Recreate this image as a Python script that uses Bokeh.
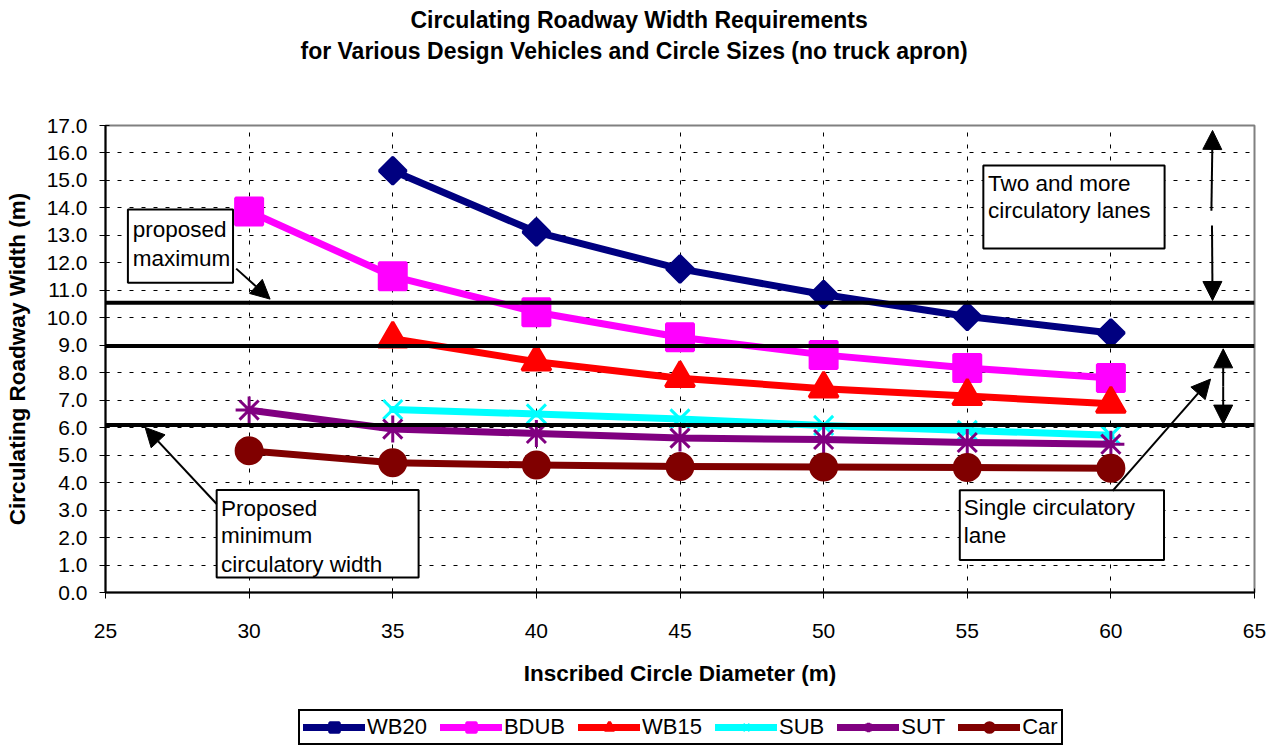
import numpy as np
from bokeh.plotting import figure
from bokeh.layouts import column
from bokeh.models import (Span, BoxAnnotation, Label, Arrow, NormalHead, Legend, LegendItem,
                          SingleIntervalTicker, NumeralTickFormatter, Range1d, Title)
from bokeh.embed import file_html
from bokeh.resources import INLINE

# ---------------- data ----------------
x_wb20 = [35, 40, 45, 50, 55, 60]
y_wb20 = [15.35, 13.12, 11.78, 10.85, 10.05, 9.45]
x_bdub = [30, 35, 40, 45, 50, 55, 60]
y_bdub = [13.87, 11.51, 10.20, 9.29, 8.65, 8.17, 7.81]
x_wb15 = [35, 40, 45, 50, 55, 60]
y_wb15 = [9.24, 8.40, 7.80, 7.42, 7.15, 6.87]
x_sub = [35, 40, 45, 50, 55, 60]
y_sub = [6.66, 6.50, 6.32, 6.08, 5.90, 5.72]
x_sut = [30, 35, 40, 45, 50, 55, 60]
y_sut = [6.64, 5.95, 5.79, 5.62, 5.57, 5.46, 5.40]
x_car = [30, 35, 40, 45, 50, 55, 60]
y_car = [5.16, 4.72, 4.64, 4.59, 4.57, 4.55, 4.52]

names = ["WB20", "BDUB", "WB15", "SUB", "SUT", "Car"]
xs = [x_wb20, x_bdub, x_wb15, x_sub, x_sut, x_car]
ys = [y_wb20, y_bdub, y_wb15, y_sub, y_sut, y_car]

proposed_max = 10.55
lane_split = 8.97
proposed_min = 6.1

title_lines = ["Circulating Roadway Width Requirements",
               "for Various Design Vehicles and Circle Sizes (no truck apron)"]

# ---------------- styles ----------------
styles = [
    dict(color="#000080", marker="square", size=19, angle=np.pi / 4, fill=True),
    dict(color="#FF00FF", marker="square", size=27, angle=0, fill=True),
    dict(color="#FF0000", marker="triangle", size=29, angle=0, fill=True),
    dict(color="#00FFFF", marker="x", size=27, angle=0, fill=False),
    dict(color="#800080", marker="asterisk", size=27, angle=0, fill=False),
    dict(color="#800000", marker="circle", size=26, angle=0, fill=True),
]

FONT = "Liberation Sans"

p = figure(width=1278, height=708, output_backend="svg", toolbar_location=None,
           x_range=Range1d(25, 65), y_range=Range1d(0, 17),
           min_border_left=105, min_border_right=24, min_border_top=125, min_border_bottom=116,
           background_fill_color="white", border_fill_color="white")

p.outline_line_color = "#808080"
p.outline_line_width = 2

# axes
p.xaxis.ticker = SingleIntervalTicker(interval=5)
p.yaxis.ticker = SingleIntervalTicker(interval=1)
p.yaxis.formatter = NumeralTickFormatter(format="0.0")
for ax in (p.xaxis[0], p.yaxis[0]):
    ax.axis_line_color = "black"
    ax.axis_line_width = 2
    ax.major_tick_line_color = "black"
    ax.major_tick_line_width = 1
    ax.major_tick_out = 6
    ax.major_tick_in = 4
    ax.minor_tick_line_color = None
    ax.major_label_text_font = FONT
    ax.major_label_text_font_size = "21px"
    ax.major_label_text_color = "black"
    ax.axis_label_text_font = FONT
    ax.axis_label_text_font_size = "22.5px"
    ax.axis_label_text_font_style = "bold"
    ax.axis_label_text_color = "black"
p.xaxis.axis_label = "Inscribed Circle Diameter (m)"
p.yaxis.axis_label = "Circulating Roadway Width (m)"
p.xaxis.major_label_standoff = 25
p.xaxis.axis_label_standoff = 20
p.yaxis.major_label_standoff = 12
p.yaxis.axis_label_standoff = 14

for g in (p.xgrid[0], p.ygrid[0]):
    g.grid_line_color = "black"
    g.grid_line_dash = "4 8"
    g.grid_line_width = 1

# legend strip (separate small figure placed under the chart)
lg = figure(width=1278, height=38, output_backend="svg", toolbar_location=None,
            x_range=Range1d(0, 1), y_range=Range1d(100, 101),
            x_axis_type=None, y_axis_type=None,
            min_border_left=0, min_border_right=0, min_border_top=0, min_border_bottom=0,
            background_fill_color="white", border_fill_color="white")
lg.outline_line_color = None
lg.xgrid.visible = False
lg.ygrid.visible = False

# series
items = []
for name, xv, yv, st in zip(names, xs, ys, styles):
    for fig in (p, lg):
        ln = fig.line(xv, yv, line_color=st["color"], line_width=7, line_join="round", line_cap="round")
        sc = fig.scatter(xv, yv, marker=st["marker"], size=st["size"], angle=st["angle"],
                         line_color=st["color"], line_width=3,
                         fill_color=st["color"] if st["fill"] else None)
    items.append(LegendItem(label=name, renderers=[ln, sc]))

# reference lines
for yv in (proposed_max, lane_split, proposed_min):
    p.add_layout(Span(location=yv, dimension="width", line_color="black", line_width=4))

def box(l, r, t, b):
    p.add_layout(BoxAnnotation(left=l, right=r, top=t, bottom=b, fill_color="white", fill_alpha=1,
                               line_color="black", line_width=2, line_alpha=1))

def text(x, y, s):
    p.add_layout(Label(x=x, y=y, text=s, text_font=FONT, text_font_size="22.5px",
                       text_baseline="middle", text_align="left", text_color="black"))

def arrow(x0, y0, x1, y1):
    p.add_layout(Arrow(x_start=x0, y_start=y0, x_end=x1, y_end=y1, line_color="black", line_width=2,
                       end=NormalHead(size=19, fill_color="black", line_color="black")))

# proposed maximum
box(25.78, 29.44, 13.94, 11.28)
text(25.95, 13.21, "proposed")
text(25.95, 12.16, "maximum")
arrow(29.55, 11.79, 30.73, 10.68)

# two and more lanes
box(55.56, 61.87, 15.54, 12.52)
text(55.72, 14.90, "Two and more")
text(55.72, 13.90, "circulatory lanes")
arrow(63.50, 13.90, 63.54, 16.82)
arrow(63.52, 13.36, 63.54, 10.63)

# single lane
arrow(63.91, 7.5, 63.91, 8.87)
arrow(63.91, 7.5, 63.91, 6.13)
box(54.74, 61.85, 3.72, 1.18)
text(54.88, 3.10, "Single circulatory")
text(54.88, 2.07, "lane")
arrow(60.06, 3.70, 63.47, 7.77)

# proposed minimum
box(28.87, 35.90, 3.73, 0.55)
text(29.02, 3.07, "Proposed")
text(29.02, 2.07, "minimum")
text(29.02, 1.01, "circulatory width")
arrow(28.87, 3.22, 26.38, 6.01)

# title: spacer nearest the frame, then line 2, then line 1
p.add_layout(Title(text=" ", text_font_size="1px", standoff=57), "above")
p.add_layout(Title(text=title_lines[1], align="left", offset=195, standoff=3, text_color="black",
                   text_font=FONT, text_font_size="23px", text_font_style="bold"), "above")
p.add_layout(Title(text=title_lines[0], align="left", offset=305, standoff=3, text_color="black",
                   text_font=FONT, text_font_size="23px", text_font_style="bold"), "above")

legend = Legend(items=items, orientation="horizontal", location=(193, 1),
                glyph_width=62, glyph_height=24, label_standoff=2, spacing=13, padding=3,
                margin=0, label_text_font=FONT, label_text_font_size="22px", label_text_color="black",
                border_line_color="black", border_line_width=2, border_line_alpha=1,
                background_fill_color="white", background_fill_alpha=1)
lg.add_layout(legend, "center")

open("out.html", "w").write(file_html(column(p, lg, spacing=0), INLINE))
